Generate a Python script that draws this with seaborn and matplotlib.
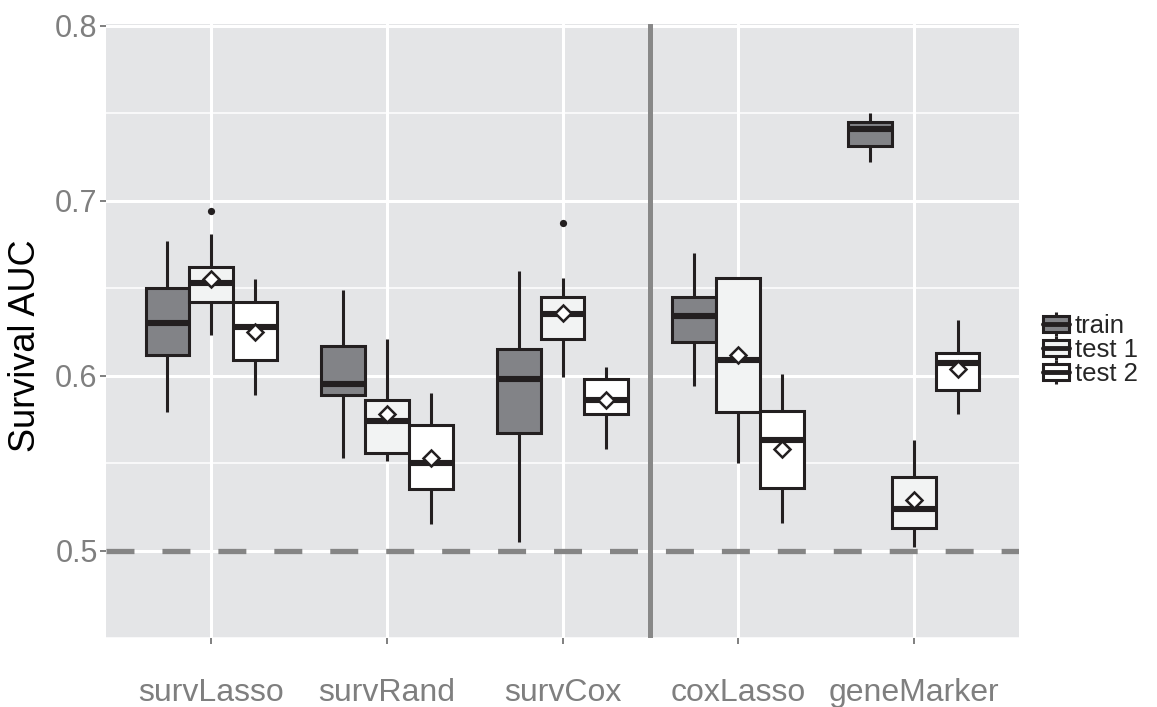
import numpy as np
import pandas as pd
import matplotlib
matplotlib.use('Agg')
import matplotlib.pyplot as plt
from matplotlib.lines import Line2D
from matplotlib.patches import Patch
from matplotlib.ticker import MultipleLocator
import seaborn as sns

# valori
models = ['survLasso', 'survRand', 'survCox', 'coxLasso', 'geneMarker']
sets = ['train', 'test 1', 'test 2']

# train
train_lo = [0.579, 0.553, 0.505, 0.594, 0.722]
train_q1 = [0.612, 0.589, 0.567, 0.619, 0.731]
train_med = [0.630, 0.595, 0.598, 0.634, 0.741]
train_q3 = [0.650, 0.617, 0.615, 0.645, 0.745]
train_hi = [0.677, 0.649, 0.660, 0.670, 0.750]

# test 1
test1_lo = [0.623, 0.551, 0.599, 0.550, 0.502]
test1_q1 = [0.642, 0.556, 0.621, 0.579, 0.513]
test1_med = [0.653, 0.574, 0.635, 0.609, 0.524]
test1_q3 = [0.662, 0.586, 0.645, 0.656, 0.542]
test1_hi = [0.681, 0.621, 0.656, 0.656, 0.563]
test1_mean = [0.655, 0.578, 0.636, 0.612, 0.529]

# test 2
test2_lo = [0.589, 0.515, 0.558, 0.516, 0.578]
test2_q1 = [0.609, 0.535, 0.578, 0.536, 0.592]
test2_med = [0.628, 0.550, 0.586, 0.563, 0.607]
test2_q3 = [0.642, 0.572, 0.598, 0.580, 0.613]
test2_hi = [0.655, 0.590, 0.605, 0.601, 0.632]
test2_mean = [0.625, 0.553, 0.586, 0.558, 0.604]

# puncte aberante (test 1)
outlier_models = ['survLasso', 'survCox']
outlier_values = [0.694, 0.687]

fills = {'train': '#828387', 'test 1': '#f2f3f3', 'test 2': '#ffffff'}
dark = '#231f20'

# tabel lung pentru boxplot
five = {
    'train': [train_lo, train_q1, train_med, train_q3, train_hi],
    'test 1': [test1_lo, test1_q1, test1_med, test1_q3, test1_hi],
    'test 2': [test2_lo, test2_q1, test2_med, test2_q3, test2_hi],
}
rows = []
for s, cols in five.items():
    for i, m in enumerate(models):
        for col in cols:
            rows.append({'model': m, 'set': s, 'auc': col[i]})
df = pd.DataFrame(rows)

df_mean = pd.DataFrame({
    'model': models * 2,
    'set': ['test 1'] * 5 + ['test 2'] * 5,
    'auc': test1_mean + test2_mean,
})
df_out = pd.DataFrame({'model': outlier_models, 'set': ['test 1'] * 2, 'auc': outlier_values})

sns.set_style('white')
plt.rcParams['font.family'] = ['Liberation Sans', 'DejaVu Sans']

fig = plt.figure(figsize=(11.57, 7.07), dpi=100)
ax = fig.add_axes([106 / 1157, 1 - 638 / 707, 913 / 1157, 614 / 707])
ax.set_facecolor('#e4e5e7')

sns.boxplot(data=df, x='model', y='auc', hue='set', order=models, hue_order=sets,
            palette=fills, saturation=1, width=0.75, gap=0, linecolor=dark,
            linewidth=2.2, showcaps=False, fliersize=0, legend=False,
            medianprops={'linewidth': 4.4, 'color': dark}, ax=ax, zorder=3)

# media (romb alb)
sns.pointplot(data=df_mean, x='model', y='auc', hue='set', order=models, hue_order=sets,
              dodge=0.5, linestyle='none', markers='D', errorbar=None,
              palette={s: dark for s in sets}, markerfacecolor='white',
              markersize=8, markeredgewidth=1.8, legend=False, ax=ax, zorder=5)

sns.pointplot(data=df_out, x='model', y='auc', hue='set', order=models, hue_order=sets,
              dodge=0.5, linestyle='none', markers='o', errorbar=None,
              palette={s: dark for s in sets}, markersize=5.2, markeredgewidth=0,
              legend=False, ax=ax, zorder=5)

ax.axhline(0.5, color='#858585', lw=3.8, dashes=(5.3, 5.3), zorder=2)
ax.axvline(2.5, color='#888888', lw=3.6, zorder=2)

ax.set_xlim(-0.6, 4.6)
ax.set_ylim(0.45, 0.801)
ax.yaxis.set_major_locator(MultipleLocator(0.1))
ax.yaxis.set_minor_locator(MultipleLocator(0.05))
ax.set_axisbelow(True)
ax.grid(which='major', color='white', lw=2.2)
ax.grid(which='minor', axis='y', color='white', lw=1.1)
for sp in ax.spines.values():
    sp.set_visible(False)

ax.tick_params(axis='both', which='major', length=4, width=1.4, color='#7f7f7f',
               labelcolor='#7f7f7f', left=True, bottom=True)
ax.tick_params(axis='y', which='minor', length=0)
ax.tick_params(axis='x', pad=25, labelsize=23)
ax.tick_params(axis='y', pad=2, labelsize=22)
ax.set_yticks([0.5, 0.6, 0.7, 0.8])
ax.set_yticklabels(['0.5', '0.6', '0.7', '0.8'])

ax.set_xlabel('')
ax.set_ylabel('Survival AUC', fontsize=26, color='black')
ax.yaxis.set_label_coords(-0.069, 0.476)

handles = []
for s in sets:
    handles.append((
        Line2D([], [], marker='|', markersize=17, markeredgewidth=2.2, color=dark, linestyle='none'),
        Patch(facecolor=fills[s], edgecolor=dark, linewidth=2.2),
        Line2D([], [], color=dark, lw=3.5),
    ))
fig.legend(handles, sets, loc='center left', bbox_to_anchor=(1043 / 1157, 1 - 350 / 707),
           frameon=False, fontsize=18.5, handlelength=1.0, handleheight=0.6,
           handletextpad=0.25, labelspacing=0.0, borderaxespad=0, borderpad=0)

fig.savefig('out.png', dpi=100)
